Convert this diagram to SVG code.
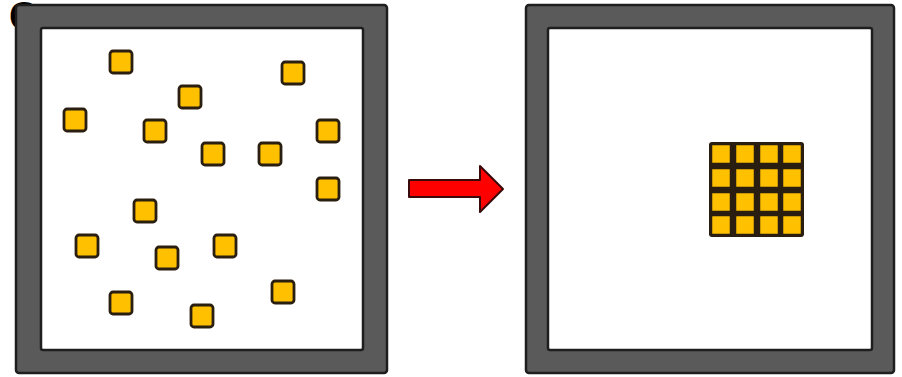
<svg xmlns="http://www.w3.org/2000/svg" width="902" height="377" viewBox="0 0 902 377">
<defs>
<style>
.frame{fill:#5a5a5a;stroke:#1e1e1e;stroke-width:2.5}
.inner{fill:#ffffff;stroke:#1e1e1e;stroke-width:2.5}
.sq{fill:#ffc000;stroke:#2a1e10;stroke-width:2.8}
.cell{fill:#ffc000;stroke:#2a1e10;stroke-width:2.5}
</style>
</defs>
<rect width="902" height="377" fill="#ffffff"/>
<text x="9" y="30" font-family="Liberation Sans, sans-serif" font-weight="bold" font-size="40" fill="#000">C</text>
<g id="left-box">
<rect class="frame" x="16" y="5" width="371" height="368" rx="3"/>
<rect class="inner" x="41" y="28" width="322" height="322" rx="2"/>
</g>
<g id="right-box">
<rect class="frame" x="526" y="5" width="368" height="368" rx="3"/>
<rect class="inner" x="548" y="28" width="324" height="322" rx="2"/>
</g>
<g id="scattered">
<rect class="sq" x="110" y="51" width="22" height="22" rx="3"/>
<rect class="sq" x="282" y="62" width="22" height="22" rx="3"/>
<rect class="sq" x="179" y="86" width="22" height="22" rx="3"/>
<rect class="sq" x="64" y="109" width="22" height="22" rx="3"/>
<rect class="sq" x="144" y="120" width="22" height="22" rx="3"/>
<rect class="sq" x="317" y="120" width="22" height="22" rx="3"/>
<rect class="sq" x="202" y="143" width="22" height="22" rx="3"/>
<rect class="sq" x="259" y="143" width="22" height="22" rx="3"/>
<rect class="sq" x="317" y="178" width="22" height="22" rx="3"/>
<rect class="sq" x="134" y="200" width="22" height="22" rx="3"/>
<rect class="sq" x="76" y="235" width="22" height="22" rx="3"/>
<rect class="sq" x="156" y="247" width="22" height="22" rx="3"/>
<rect class="sq" x="214" y="235" width="22" height="22" rx="3"/>
<rect class="sq" x="272" y="281" width="22" height="22" rx="3"/>
<rect class="sq" x="110" y="292" width="22" height="22" rx="3"/>
<rect class="sq" x="191" y="305" width="22" height="22" rx="3"/>
</g>
<g id="grid">
<rect x="709" y="142" width="95" height="95" rx="3" fill="#2a1e10"/>
<rect class="cell" x="711" y="144" width="20" height="20" rx="1.5"/>
<rect class="cell" x="735" y="144" width="20" height="20" rx="1.5"/>
<rect class="cell" x="759" y="144" width="20" height="20" rx="1.5"/>
<rect class="cell" x="782" y="144" width="20" height="20" rx="1.5"/>
<rect class="cell" x="711" y="168" width="20" height="20" rx="1.5"/>
<rect class="cell" x="735" y="168" width="20" height="20" rx="1.5"/>
<rect class="cell" x="759" y="168" width="20" height="20" rx="1.5"/>
<rect class="cell" x="782" y="168" width="20" height="20" rx="1.5"/>
<rect class="cell" x="711" y="192" width="20" height="20" rx="1.5"/>
<rect class="cell" x="735" y="192" width="20" height="20" rx="1.5"/>
<rect class="cell" x="759" y="192" width="20" height="20" rx="1.5"/>
<rect class="cell" x="782" y="192" width="20" height="20" rx="1.5"/>
<rect class="cell" x="711" y="215" width="20" height="20" rx="1.5"/>
<rect class="cell" x="735" y="215" width="20" height="20" rx="1.5"/>
<rect class="cell" x="759" y="215" width="20" height="20" rx="1.5"/>
<rect class="cell" x="782" y="215" width="20" height="20" rx="1.5"/>
</g>
<g id="connectors">
<path d="M409,180 L480,180 L480,166 L503,189 L480,212 L480,197 L409,197 Z" fill="#ff0000" stroke="#3a0a0a" stroke-width="2" stroke-linejoin="round"/>
</g>
</svg>
